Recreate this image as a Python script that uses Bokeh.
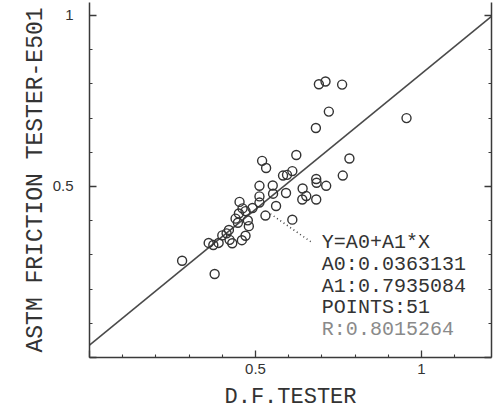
from bokeh.plotting import figure
from bokeh.models import LinearAxis, FixedTicker, Range1d, Label
from bokeh.embed import file_html
from bokeh.resources import INLINE
from bokeh.core.properties import value

# ---- data ----
df_tester = [0.279, 0.377, 0.359, 0.389, 0.400, 0.420, 0.422, 0.430, 0.459, 0.470,
             0.440, 0.447, 0.450, 0.470, 0.477, 0.480, 0.461, 0.452, 0.512, 0.512,
             0.530, 0.562, 0.553, 0.512, 0.552, 0.592, 0.611, 0.520, 0.532, 0.583,
             0.595, 0.611, 0.623, 0.642, 0.653, 0.641, 0.683, 0.683, 0.684, 0.713,
             0.763, 0.783, 0.682, 0.721, 0.691, 0.711, 0.761, 0.955, 0.413, 0.491,
             0.373]
astm_e501 = [0.283, 0.244, 0.335, 0.335, 0.357, 0.373, 0.344, 0.334, 0.343, 0.356,
             0.406, 0.394, 0.421, 0.428, 0.401, 0.384, 0.436, 0.455, 0.471, 0.453,
             0.415, 0.443, 0.479, 0.502, 0.503, 0.481, 0.403, 0.575, 0.554, 0.532,
             0.534, 0.545, 0.592, 0.494, 0.472, 0.462, 0.462, 0.522, 0.511, 0.502,
             0.532, 0.582, 0.671, 0.719, 0.799, 0.807, 0.798, 0.700, 0.363, 0.437,
             0.329]

A0 = 0.0363131
A1 = 0.7935084
stats_lines = ["Y=A0+A1*X", "A0:0.0363131", "A1:0.7935084", "POINTS:51", "R:0.8015264"]
stats_colors = ["#333333", "#333333", "#333333", "#333333", "#8a8a8a"]
stats_x = [0.70, 0.70, 0.70, 0.70, 0.70]
stats_y = [0.335, 0.272, 0.208, 0.145, 0.081]
leader_x = [0.545, 0.669]
leader_y = [0.420, 0.337]

major_ticks = [0, 0.5, 1]
minor_ticks = [0.1, 0.2, 0.3, 0.4, 0.6, 0.7, 0.8, 0.9, 1.1]
x_labels = {0: "", 0.5: "0.5", 1: "1"}
y_labels = {0: "", 0.5: "0.5", 1: "1"}
x_min, x_max = 0, 1.211
y_min, y_max = 0, 1.038

INK = "#3a3a3a"
MONO = "Liberation Mono"

p = figure(width=496, height=416, output_backend="svg", toolbar_location=None,
           x_range=Range1d(x_min, x_max), y_range=Range1d(y_min, y_max),
           min_border_left=89, min_border_right=5, min_border_top=2, min_border_bottom=59,
           background_fill_color="white", border_fill_color="white")
p.outline_line_color = None
p.grid.visible = False

def style_axis(ax, labels):
    ax.ticker = FixedTicker(ticks=major_ticks, minor_ticks=minor_ticks)
    ax.axis_line_color = INK
    ax.axis_line_width = 1.5
    ax.major_tick_line_color = INK
    ax.minor_tick_line_color = INK
    ax.major_tick_line_width = 1.3
    ax.minor_tick_line_width = 1.1
    ax.major_tick_in = 7
    ax.major_tick_out = 0
    ax.minor_tick_in = 3
    ax.minor_tick_out = 0
    ax.major_label_overrides = labels
    ax.major_label_text_font = "Liberation Sans"
    ax.major_label_text_font_size = "15px"
    ax.major_label_text_color = "#333333"
    ax.axis_label_text_font = MONO
    ax.axis_label_text_font_style = "normal"
    ax.axis_label_text_color = "#333333"

style_axis(p.xaxis[0], x_labels)
style_axis(p.yaxis[0], y_labels)
p.xaxis.major_label_standoff = 6
p.yaxis.major_label_standoff = 16
p.xaxis.axis_label = "D.F.TESTER"
p.xaxis.axis_label_text_font_size = "22px"
p.xaxis.axis_label_standoff = 8
p.yaxis.axis_label = "ASTM FRICTION TESTER-E501"
p.yaxis.axis_label_text_font_size = "23px"
p.yaxis.axis_label_standoff = 1

right = LinearAxis()
style_axis(right, {0: "", 0.5: "", 1: ""})
right.major_label_text_font_size = "0px"
right.major_label_standoff = 0
p.add_layout(right, "right")

# regression line from the stated coefficients
fit_x = [x_min, x_max]
fit_y = [A0 + A1 * v for v in fit_x]
p.line(fit_x, fit_y, line_color="#4a4a4a", line_width=1.6)

p.scatter(df_tester, astm_e501, marker="circle", size=9, fill_color=None,
          line_color="#333333", line_width=1.4)

p.line(leader_x, leader_y, line_color="#444444", line_width=1.6, line_dash="1 3")

p.text(x=stats_x, y=stats_y, text=stats_lines, text_color=stats_colors,
       text_font=value(MONO), text_font_size="20px", text_baseline="middle",
       text_align="left")

p.add_layout(Label(x=0, y=0, text="0", x_offset=-14, y_offset=-14,
                   text_align="center", text_baseline="middle",
                   text_font="Liberation Sans", text_font_size="15px",
                   text_color="#333333"))

open("out.html", "w").write(file_html(p, INLINE))
